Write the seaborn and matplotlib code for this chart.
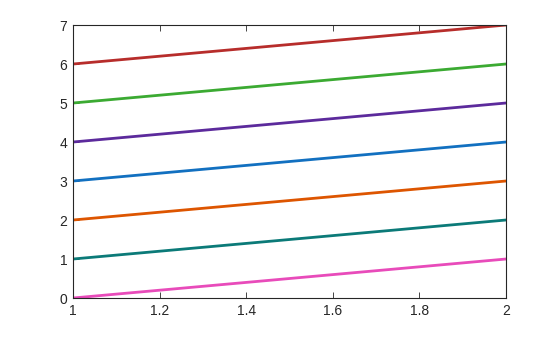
import matplotlib
matplotlib.use("Agg")
import matplotlib.pyplot as plt
import seaborn as sns
import pandas as pd

x = [1, 2]
starts = [0, 1, 2, 3, 4, 5, 6]
ends = [1, 2, 3, 4, 5, 6, 7]
colors = ["#E84BBA", "#0B7A78", "#DD5500", "#1270C0", "#5C2A9C", "#3BAA32", "#B72D2B"]
xticks = [1, 1.2, 1.4, 1.6, 1.8, 2]
yticks = [0, 1, 2, 3, 4, 5, 6, 7]

rows = []
for i, (s, e) in enumerate(zip(starts, ends)):
    rows.append({"x": x[0], "y": s, "series": i})
    rows.append({"x": x[1], "y": e, "series": i})
df = pd.DataFrame(rows)

sns.set_style("white")
plt.rcParams["font.family"] = ["Liberation Sans", "DejaVu Sans"]

fig = plt.figure(figsize=(5.6, 3.37), dpi=100)
ax = fig.add_axes([0.1304, 0.1157, 0.7732, 0.8101])
sns.lineplot(data=df, x="x", y="y", hue="series", palette=colors, linewidth=2,
             legend=False, ax=ax)
ax.set_xlim(1, 2)
ax.set_ylim(0, 7)
ax.set_xticks(xticks)
ax.set_xticklabels(["1", "1.2", "1.4", "1.6", "1.8", "2"])
ax.set_yticks(yticks)
ax.set_xlabel("")
ax.set_ylabel("")
for sp in ax.spines.values():
    sp.set_visible(True)
    sp.set_color("#262626")
    sp.set_linewidth(0.8)
ax.tick_params(direction="in", length=4, width=0.6, colors="#262626",
               labelsize=10, top=True, right=True, labeltop=False, labelright=False,
               bottom=True, left=True, pad=4)
fig.savefig("out.png", dpi=100, facecolor="white")
